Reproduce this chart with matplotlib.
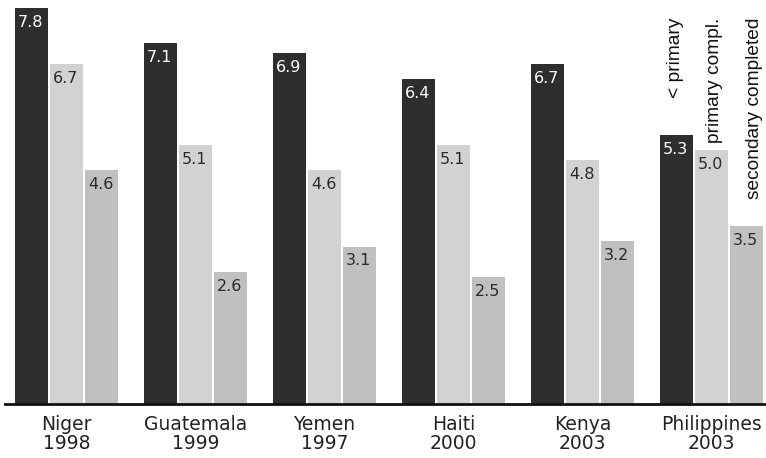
import matplotlib.pyplot as plt
import numpy as np

countries = ["Niger\n1998", "Guatemala\n1999", "Yemen\n1997", "Haiti\n2000", "Kenya\n2003", "Philippines\n2003"]
below_primary = [7.8, 7.1, 6.9, 6.4, 6.7, 5.3]
primary_compl = [6.7, 5.1, 4.6, 5.1, 4.8, 5.0]
secondary_compl = [4.6, 2.6, 3.1, 2.5, 3.2, 3.5]
series_names = ["< primary", "primary compl.", "secondary completed"]

colors = ["#2e2e2e", "#d2d2d2", "#c0c0c0"]
text_colors = ["white", "#2a2a2a", "#2a2a2a"]

fig = plt.figure(figsize=(7.66, 4.58), dpi=100)
ax = fig.add_axes([0, 54 / 458, 1, 1 - 54 / 458])

group_px = 129.0
x = np.arange(len(countries))
width = 33 / group_px
step = 35 / group_px

series = [below_primary, primary_compl, secondary_compl]
for k, vals in enumerate(series):
    pos = x + (k - 1) * step
    ax.bar(pos, vals, width=width, color=colors[k], linewidth=0)
    for p, v in zip(pos, vals):
        ax.annotate(f"{v:.1f}", (p, v), xytext=(-0.5, -5), textcoords="offset points",
                    ha="center", va="top", fontsize=11.5, color=text_colors[k])

# series names written vertically above the last group
last = len(countries) - 1
name_shift = [-1.0, 2.5, 6.0]  # points
for k, name in enumerate(series_names):
    ax.annotate(name, (last + (k - 1) * step, 7.60), xytext=(name_shift[k], 0),
                textcoords="offset points", rotation=90, ha="center", va="top",
                fontsize=13.8, family="Liberation Sans", color="#111111")

xmin, xmax = -66.5 / group_px, (766 - 66.5) / group_px
ax.set_xlim(xmin, xmax)
ax.set_ylim(0, 404 / 50.8)
ax.set_xticks(x)
ax.set_xticklabels(countries, fontsize=13.5, linespacing=0.98, color="#222222")
ax.tick_params(axis="x", length=0, pad=8)
ax.set_yticks([])
for side in ["top", "right", "left"]:
    ax.spines[side].set_visible(False)
ax.spines["bottom"].set_linewidth(2)
ax.spines["bottom"].set_color("#111111")
ax.spines["bottom"].set_bounds(xmin + 5 / group_px, xmax)

fig.savefig("out.png", dpi=100)
